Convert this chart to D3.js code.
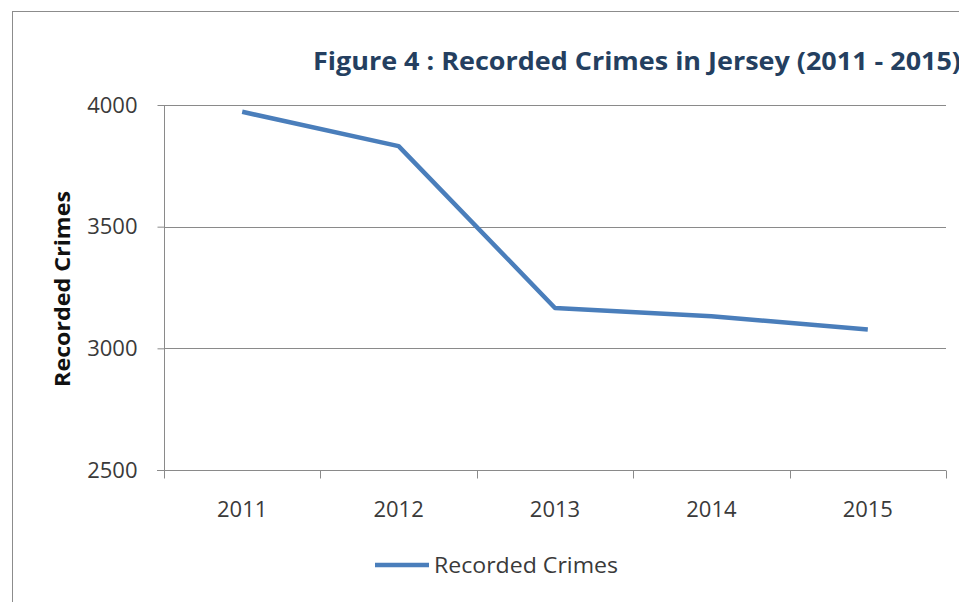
<!DOCTYPE html>
<html lang="en">
<head>
  <meta charset="UTF-8">
  <title>Figure 4 : Recorded Crimes in Jersey (2011 - 2015)</title>
  <script src="https://d3js.org/d3.v7.min.js"></script>
  <style>
    body {
      margin: 0;
      background-color: #fff;
    }
    .chart-frame {
      fill: none;
      stroke: #8c8c8c;
      stroke-width: 1px;
    }
    .grid-line {
      stroke: #8a8a8a;
      stroke-width: 1px;
    }
    .axis path, .axis line {
      stroke: #8a8a8a;
    }
    .axis text {
      font-family: "Open Sans", sans-serif;
      font-size: 22px;
      fill: #3a3a3a;
    }
    .crime-line {
      fill: none;
      stroke: #4a7ebb;
      stroke-width: 4.5px;
      stroke-linejoin: round;
    }
  </style>
</head>
<body>
  <div id="chart-area"></div>

  <script>
    const years = ["2011", "2012", "2013", "2014", "2015"];
    const recordedCrimes = [3972, 3831, 3166, 3132, 3077];
    const yTicks = [2500, 3000, 3500, 4000];
    const chartTitle = "Figure 4 : Recorded Crimes in Jersey (2011 - 2015)";
    const yTitle = "Recorded Crimes";
    const seriesName = "Recorded Crimes";

    const dataSet = years.map((year, i) => ({ year, value: recordedCrimes[i] }));

    const svgWidth = 959, svgHeight = 602;
    const marginConfig = { top: 105, right: 13, bottom: 132, left: 164 };
    const graphWidth = svgWidth - marginConfig.left - marginConfig.right;
    const graphHeight = svgHeight - marginConfig.top - marginConfig.bottom;

    const svg = d3.select("#chart-area")
      .append("svg")
      .attr("width", svgWidth)
      .attr("height", svgHeight);

    // outer chart border (right/bottom edges sit outside the picture)
    svg.append("rect")
      .attr("class", "chart-frame")
      .attr("x", 12.5)
      .attr("y", 11.5)
      .attr("width", 1000)
      .attr("height", 1000);

    svg.append("text")
      .attr("x", 313)
      .attr("y", 70)
      .attr("font-family", "Open Sans, sans-serif")
      .attr("font-weight", "bold")
      .attr("font-size", 25)
      .attr("fill", "#243f60")
      .attr("textLength", 648)
      .attr("lengthAdjust", "spacingAndGlyphs")
      .text(chartTitle);

    const plot = svg.append("g")
      .attr("transform", `translate(${marginConfig.left}, ${marginConfig.top})`);

    const xScale = d3.scaleBand()
      .domain(years)
      .range([0, graphWidth]);

    const yScale = d3.scaleLinear()
      .domain([2500, 4000])
      .range([graphHeight, 0]);

    // horizontal gridlines
    plot.selectAll(".grid-line")
      .data(yTicks.filter(t => t !== 2500))
      .enter()
      .append("line")
      .attr("class", "grid-line")
      .attr("x1", 0)
      .attr("x2", graphWidth)
      .attr("y1", d => Math.round(yScale(d)) + 0.5)
      .attr("y2", d => Math.round(yScale(d)) + 0.5);

    // y axis
    const yAxis = plot.append("g")
      .attr("class", "axis")
      .attr("transform", "translate(0.5, 0)")
      .call(d3.axisLeft(yScale).tickValues(yTicks).tickFormat(d3.format("d"))
        .tickSize(7).tickSizeOuter(0).tickPadding(20));
    yAxis.select(".domain").remove();
    yAxis.append("line")
      .attr("x1", 0).attr("x2", 0)
      .attr("y1", 0).attr("y2", graphHeight + 8)
      .attr("stroke", "#8a8a8a");

    // x axis with tick marks on category boundaries
    const xAxis = plot.append("g")
      .attr("class", "axis")
      .attr("transform", `translate(0, ${graphHeight + 0.5})`);
    xAxis.append("line")
      .attr("x1", -7).attr("x2", graphWidth)
      .attr("stroke", "#8a8a8a");
    const boundaries = years.map(y => xScale(y)).concat([graphWidth]);
    xAxis.selectAll(".x-tick")
      .data(boundaries)
      .enter()
      .append("line")
      .attr("class", "x-tick")
      .attr("x1", d => Math.round(d) + 0.5)
      .attr("x2", d => Math.round(d) + 0.5)
      .attr("y1", 0)
      .attr("y2", 8)
      .attr("stroke", "#8a8a8a");
    xAxis.selectAll(".x-label")
      .data(years)
      .enter()
      .append("text")
      .attr("class", "x-label")
      .attr("x", d => xScale(d) + xScale.bandwidth() / 2)
      .attr("y", 46)
      .attr("text-anchor", "middle")
      .text(d => d);

    // y axis title
    svg.append("text")
      .attr("transform", "translate(70, 289) rotate(-90)")
      .attr("text-anchor", "middle")
      .attr("font-family", "Open Sans, sans-serif")
      .attr("font-weight", "bold")
      .attr("font-size", 21)
      .attr("fill", "#111")
      .attr("textLength", 196)
      .attr("lengthAdjust", "spacingAndGlyphs")
      .text(yTitle);

    // data line
    const lineGen = d3.line()
      .x(d => xScale(d.year) + xScale.bandwidth() / 2)
      .y(d => yScale(d.value));

    plot.append("path")
      .datum(dataSet)
      .attr("class", "crime-line")
      .attr("d", lineGen);

    // legend
    const legend = svg.append("g")
      .attr("transform", "translate(375, 565)");
    legend.append("line")
      .attr("x1", 0).attr("x2", 54)
      .attr("y1", 0).attr("y2", 0)
      .attr("stroke", "#4a7ebb")
      .attr("stroke-width", 4.5);
    legend.append("text")
      .attr("x", 59)
      .attr("y", 8)
      .attr("font-family", "Open Sans, sans-serif")
      .attr("font-size", 22)
      .attr("fill", "#3a3a3a")
      .attr("textLength", 184)
      .attr("lengthAdjust", "spacingAndGlyphs")
      .text(seriesName);
  </script>
</body>
</html>
